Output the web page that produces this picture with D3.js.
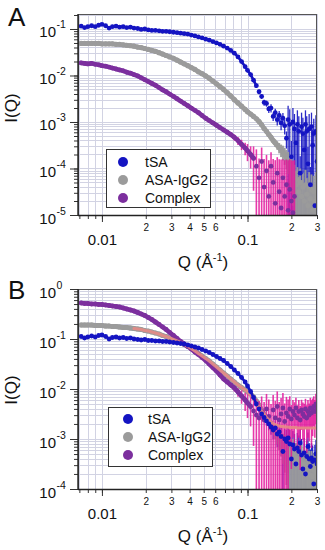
<!DOCTYPE html>
<html><head><meta charset="utf-8">
<script src="https://cdn.jsdelivr.net/npm/d3@7"></script>
<style>body{margin:0;background:#fff}svg{display:block}text{font-family:"Liberation Sans",Arial,sans-serif;fill:#111}</style>
</head><body><svg id="c" width="325" height="550"></svg>
<script>
// ---------- DATA (intensities given as log10 I) ----------
const qLo = [0.0072,0.0076,0.008,0.0085,0.009,0.0095,0.010,0.0106,0.0112,0.0118,
0.0125,0.0132,0.014,0.0148,0.0157,0.0166,0.0176,0.0186,0.0197,0.0208,
0.022,0.0233,0.0247,0.0261,0.0276,0.0292,0.031,0.0328,0.0347,0.0367,
0.0389,0.0411,0.0435,0.046,0.0487,0.0516,0.0546,0.0578,0.0612,0.0647,
0.0685,0.0725,0.0767,0.0812,0.086,0.091,0.0963];
const qHi = [0.100,0.105,0.110,0.115,0.120,0.125,0.130,0.135,0.140,0.145,
0.150,0.155,0.160,0.165,0.170,0.175,0.180,0.185,0.190,0.195,
0.200,0.205,0.210,0.215,0.220,0.225,0.230,0.235,0.240,0.245,
0.250,0.255,0.260,0.265,0.270,0.275,0.280,0.285,0.290,0.295,0.300];

const seriesNames = ["tSA","ASA-IgG2","Complex"];

// ----- Panel A -----
const tSA_A_lo = [-0.94,-0.97,-0.95,-0.93,-0.95,-0.92,-0.90,-0.93,-0.98,-0.95,
-0.94,-0.96,-0.95,-0.97,-0.96,-0.98,-0.99,-1.01,-1.00,-1.02,
-1.03,-1.03,-1.04,-1.05,-1.05,-1.06,-1.07,-1.08,-1.09,-1.10,
-1.11,-1.13,-1.15,-1.17,-1.19,-1.22,-1.24,-1.27,-1.30,-1.33,
-1.37,-1.41,-1.46,-1.52,-1.60,-1.70,-1.81];
const tSA_A_hi = [-1.89,-1.98,-2.10,-2.22,-2.35,-2.45,-2.58,-2.60,-2.72,-2.70,
-2.88,-2.80,-2.95,-2.86,-3.02,-2.92,-3.08,-3.35,-2.95,-3.05,
-3.75,-3.00,-3.15,-3.45,-3.05,-3.20,-4.10,-3.10,-3.25,-3.60,
-3.05,-3.20,-3.90,-3.15,-4.35,-3.10,-3.50,-3.25,-4.80,-3.20,-3.85];
const tSA_A_hiErr = [0.08,0.08,0.10,0.10,0.12,0.12,0.15,0.15,0.18,0.20,
0.20,0.22,0.25,0.25,0.30,0.30,0.35,0.40,1.00,1.10,
1.20,1.00,1.10,1.20,1.00,1.10,1.30,1.00,1.20,1.20,
1.00,1.10,1.30,1.10,1.40,1.00,1.20,1.10,1.50,1.20,1.30];

const asa_A_lo = [-1.31,-1.31,-1.31,-1.31,-1.31,-1.31,-1.32,-1.32,-1.32,-1.32,
-1.33,-1.33,-1.34,-1.35,-1.36,-1.37,-1.39,-1.40,-1.42,-1.44,
-1.46,-1.48,-1.51,-1.54,-1.57,-1.60,-1.63,-1.67,-1.71,-1.75,
-1.79,-1.83,-1.87,-1.92,-1.96,-2.01,-2.06,-2.12,-2.18,-2.24,
-2.30,-2.37,-2.44,-2.52,-2.59,-2.66,-2.73];
const asa_A_hi = [-2.78,-2.83,-2.88,-2.93,-2.99,-3.06,-3.14,-3.20,-3.27,-3.33,
-3.40,-3.45,-3.50,-3.55,-3.60,-3.64,-3.70,-3.76,-3.82,-3.92,
-4.00,-4.10,-4.20,-4.35,-4.25,-4.50,-4.30,-4.60,-4.40,-4.70,
-4.35,-4.55,-4.80,-4.40,-4.65,-4.45,-4.90,-4.50,-4.70,-4.40,-4.60];
const asa_A_hiErr = [0.03,0.03,0.03,0.03,0.04,0.05,0.06,0.08,0.10,0.12,
0.15,0.18,0.20,0.25,0.30,0.35,0.40,0.45,0.50,0.60,
0.70,0.80,0.90,1.00,0.90,1.10,1.00,1.20,1.00,1.30,
1.10,1.20,1.40,1.10,1.30,1.10,1.50,1.20,1.30,1.10,1.30];

const cplx_A_lo = [-1.73,-1.74,-1.75,-1.74,-1.76,-1.77,-1.79,-1.80,-1.82,-1.84,
-1.86,-1.88,-1.90,-1.93,-1.95,-1.98,-2.01,-2.05,-2.09,-2.13,
-2.17,-2.21,-2.26,-2.31,-2.35,-2.40,-2.45,-2.50,-2.55,-2.60,
-2.65,-2.70,-2.75,-2.80,-2.86,-2.92,-2.97,-3.02,-3.07,-3.12,
-3.17,-3.22,-3.27,-3.33,-3.40,-3.48,-3.56];
const cplx_A_loErr = [0.04,0.04,0.04,0.04,0.04,0.04,0.04,0.04,0.04,0.04,
0.04,0.04,0.04,0.04,0.04,0.04,0.04,0.04,0.04,0.04,
0.04,0.04,0.04,0.04,0.04,0.04,0.04,0.04,0.04,0.04,
0.04,0.04,0.04,0.04,0.04,0.04,0.04,0.04,0.04,0.04,
0.08,0.10,0.12,0.15,0.20,0.25,0.30];
const cplx_A_hi = [-3.62,-3.70,-3.78,-3.95,-4.20,-3.85,-4.40,-4.05,-4.60,-3.95,
-4.30,-4.75,-4.10,-4.50,-4.85,-4.20,-4.60,-4.35,-4.90,-4.45,
-4.70,-4.95,-4.60,null,null,null,null,null,null,null,
null,null,null,null,null,null,null,null,null,null,null];
const cplx_A_hiErr = [0.40,0.50,0.80,1.30,1.60,1.00,3.00,1.20,5.00,1.00,
2.20,7.50,1.20,4.00,10.0,1.50,5.00,2.50,11.0,3.50,
6.50,12.0,5.00,0,0,0,0,0,0,0,
0,0,0,0,0,0,0,0,0,0,0];

// ----- Panel B -----
const tSA_B_lo = [-0.95,-0.98,-0.96,-0.94,-0.96,-0.93,-0.92,-0.95,-1.00,-0.97,
-0.96,-0.98,-0.97,-0.99,-0.98,-1.00,-1.01,-1.02,-1.01,-1.03,
-1.03,-1.04,-1.04,-1.05,-1.05,-1.06,-1.07,-1.08,-1.09,-1.10,
-1.12,-1.14,-1.16,-1.18,-1.21,-1.24,-1.27,-1.31,-1.35,-1.39,
-1.43,-1.49,-1.55,-1.62,-1.69,-1.77,-1.86];
const tSA_B_hi = [-1.94,-2.05,-2.17,-2.30,-2.40,-2.50,-2.57,-2.64,-2.70,-2.76,
-2.82,-2.78,-2.90,-2.86,-2.95,-3.25,-3.00,-3.05,-2.98,-3.10,
-3.40,-3.12,-3.20,-3.50,-3.18,-3.25,-3.08,-3.32,-3.60,-3.28,
-3.70,-3.35,-3.15,-3.40,-3.55,-3.38,-3.45,-3.90,-3.42,-3.30,-3.50];
const tSA_B_hiErr = [0.05,0.06,0.08,0.10,0.12,0.15,0.18,0.20,0.25,0.30,
0.35,0.40,0.45,0.50,0.55,0.90,0.60,0.70,0.80,0.90,
1.00,0.90,1.00,1.20,1.00,1.10,0.90,1.10,1.30,1.00,
1.30,1.10,0.90,1.10,1.20,1.00,1.10,1.40,1.00,0.90,1.10];

const asa_B_lo = [-0.72,-0.72,-0.72,-0.72,-0.73,-0.73,-0.73,-0.74,-0.74,-0.75,
-0.75,-0.76,-0.77,-0.77,-0.78,-0.79,-0.80,-0.81,-0.83,-0.84,
-0.86,-0.88,-0.90,-0.93,-0.95,-0.98,-1.01,-1.04,-1.07,-1.11,
-1.15,-1.19,-1.24,-1.29,-1.34,-1.39,-1.44,-1.50,-1.56,-1.62,
-1.68,-1.74,-1.80,-1.86,-1.92,-1.97,-2.02];
const asa_B_hi = [-2.05,-2.10,-2.16,-2.24,-2.32,-2.42,-2.50,-2.58,-2.66,-2.74,
-2.82,-2.88,-2.95,-3.00,-3.05,-3.10,-3.15,-3.22,-3.28,-3.25,
-3.35,-3.30,-3.45,-3.38,-3.50,-3.42,-3.55,-3.48,-3.60,-3.50,
-3.65,-3.55,-3.70,-3.58,-3.72,-3.60,-3.75,-3.62,-3.70,-3.65,-3.75];
const asa_B_hiErr = [0.02,0.02,0.02,0.02,0.02,0.02,0.05,0.08,0.10,0.15,
0.20,0.25,0.30,0.40,0.50,0.60,0.70,0.80,0.90,1.00,
1.10,1.00,1.20,1.00,1.10,1.20,1.00,1.30,1.10,1.20,
1.00,1.30,1.10,1.20,1.00,1.30,1.10,1.20,1.00,1.20,1.10];
const fit_B_lo = [null,null,null,null,null,null,null,null,null,null,
null,null,null,null,null,-0.79,-0.80,-0.81,-0.83,-0.84,
-0.86,-0.88,-0.90,-0.93,-0.95,-0.98,-1.01,-1.04,-1.07,-1.11,
-1.15,-1.19,-1.24,-1.29,-1.34,-1.39,-1.44,-1.50,-1.56,-1.62,
-1.68,-1.74,-1.80,-1.86,-1.92,-1.97,-2.02];
const fit_B_hi = [-2.05,-2.12,-2.20,-2.28,-2.36,-2.44,-2.51,-2.57,-2.62,-2.66,
-2.69,-2.71,-2.73,-2.74,-2.75,-2.75,-2.76,-2.76,-2.76,-2.77,
-2.77,-2.77,-2.77,-2.77,-2.78,-2.78,-2.78,-2.78,-2.78,-2.78,
-2.78,-2.78,-2.78,-2.78,-2.78,-2.78,-2.78,-2.78,-2.78,-2.78,-2.78];

const cplx_B_lo = [-0.28,-0.29,-0.29,-0.30,-0.30,-0.31,-0.31,-0.32,-0.33,-0.34,
-0.35,-0.36,-0.38,-0.40,-0.42,-0.44,-0.47,-0.50,-0.53,-0.57,
-0.61,-0.66,-0.71,-0.76,-0.81,-0.87,-0.93,-0.99,-1.05,-1.10,
-1.15,-1.20,-1.26,-1.31,-1.37,-1.43,-1.50,-1.57,-1.64,-1.72,
-1.80,-1.86,-1.92,-1.98,-2.06,-2.14,-2.22];
const cplx_B_loErr = [0.04,0.04,0.04,0.04,0.04,0.04,0.04,0.04,0.04,0.04,
0.04,0.04,0.04,0.04,0.04,0.04,0.04,0.04,0.04,0.04,
0.04,0.04,0.04,0.04,0.04,0.04,0.04,0.04,0.04,0.04,
0.04,0.04,0.04,0.04,0.04,0.04,0.04,0.04,0.04,0.04,
0.04,0.08,0.10,0.15,0.20,0.30,0.40];
const cplx_B_hi = [-2.28,-2.35,-2.44,-2.52,-2.58,-2.45,-2.62,-2.40,-2.55,-2.68,
-2.42,-2.58,-2.35,-2.62,-2.50,-2.38,-2.65,-2.48,-2.55,-2.40,
-2.60,-2.45,-2.52,-2.38,-2.58,-2.45,-2.62,-2.42,-2.50,-2.55,
-2.40,-2.58,-2.45,-2.52,-2.38,-2.48,-2.42,-2.35,-2.45,-2.30,-2.38];
const cplx_B_hiErr = [0.50,0.60,0.80,1.10,1.20,1.00,1.30,1.00,1.20,1.40,
1.00,1.20,1.00,1.30,1.10,1.00,1.30,1.10,1.20,0.80,
0.90,0.70,0.80,0.60,0.80,0.70,0.90,0.60,0.70,0.80,
0.60,0.80,0.70,0.70,0.60,0.80,0.70,0.60,0.70,0.60,0.70];

// ----- axis tick labels -----
const xDomain = [0.00685, 0.3];
const xMajorTicks = [0.01, 0.1];
const xMajorLabels = ["0.01", "0.1"];
const xMinorLabelTicks = [0.02, 0.03, 0.04, 0.05, 0.06, 0.2, 0.3];
const xMinorLabels = ["2", "3", "4", "5", "6", "2", "3"];
const yExpA = [-1, -2, -3, -4, -5];
const yExpB = [0, -1, -2, -3, -4];

// ---------- DRAWING ----------
const C = {tSA:"#1414c2", asa:"#9b9b9b", cplx:"#7c2f9e", cplxErr:"#e3179c", fit:"#e58b86", grid:"#d2d3e3"};
const svg = d3.select("#c");
const xL = 78, xR = 317;
const x = d3.scaleLog().domain(xDomain).range([xL, xR]);
const toI = v => Math.pow(10, v);

function pts(qs, vals, errs){
  const out = [];
  qs.forEach((qq,i)=>{ if(vals[i]!==null && vals[i]!==undefined) out.push({q:qq, I:toI(vals[i]), e:errs?errs[i]:0}); });
  return out;
}

function drawPanel(p){
  const y = d3.scaleLog().domain(p.yDomain).range([p.bottom, p.top]);
  const g = svg.append("g");
  const xt = x.ticks().filter(v => v >= xDomain[0] && v <= xDomain[1]*1.0001);
  const yt = y.ticks().filter(v => v >= p.yDomain[0]*0.9999 && v <= p.yDomain[1]*1.0001);
  g.append("g").selectAll("line").data(xt).join("line")
    .attr("x1", d=>Math.round(x(d))+0.5).attr("x2", d=>Math.round(x(d))+0.5)
    .attr("y1", p.top).attr("y2", p.bottom).attr("stroke", C.grid).attr("stroke-width", 1);
  g.append("g").selectAll("line").data(yt).join("line")
    .attr("y1", d=>Math.round(y(d))+0.5).attr("y2", d=>Math.round(y(d))+0.5)
    .attr("x1", xL).attr("x2", xR).attr("stroke", C.grid).attr("stroke-width", 1);

  svg.append("clipPath").attr("id", "clip"+p.id).append("rect")
    .attr("x", xL).attr("y", p.top).attr("width", xR-xL).attr("height", p.bottom-p.top);
  const dg = g.append("g").attr("clip-path", `url(#clip${p.id})`);

  const ymin = p.yDomain[0];
  function errBars(ps, color, width, op){
    dg.append("g").selectAll("line").data(ps.filter(d=>d.e>0.06)).join("line")
      .attr("x1", d=>x(d.q)).attr("x2", d=>x(d.q))
      .attr("y1", d=>{ const lo = d.I*(1-d.e); return lo <= ymin ? p.bottom+2 : y(lo); })
      .attr("y2", d=>y(d.I*(1+d.e)))
      .attr("stroke", color).attr("stroke-width", width).attr("opacity", op);
  }
  function band(ps, color, w, op){
    dg.append("path").datum(ps).attr("d", d3.line().x(d=>x(d.q)).y(d=>y(d.I))).attr("fill","none")
      .attr("stroke", color).attr("stroke-width", w).attr("opacity", op||1)
      .attr("stroke-linejoin","round").attr("stroke-linecap","round");
  }
  function dots(ps, color, r){
    dg.append("g").selectAll("circle").data(ps).join("circle")
      .attr("cx", d=>x(d.q)).attr("cy", d=>y(d.I)).attr("r", r).attr("fill", color);
  }

  const asa = pts(qLo, p.asaLo, null).concat(pts(qHi, p.asaHi, p.asaHiErr));
  const cp = pts(qLo, p.cpLo, p.cpLoErr).concat(pts(qHi, p.cpHi, p.cpHiErr));
  const ts = pts(qLo, p.tLo, null).concat(pts(qHi, p.tHi, p.tHiErr));

  errBars(ts, C.tSA, 1.3, 0.9);                 // tSA error bars at the back
  errBars(asa, C.asa, 2.0, 0.95);               // ASA-IgG2
  band(asa.filter(d=>d.q < p.asaBand), C.asa, 4.8);
  dots(asa, C.asa, 2.6);
  errBars(cp, C.cplxErr, 1.6, 0.85);            // Complex
  band(cp.filter(d=>d.q < p.cpBand), C.cplx, 4.6);
  dots(cp, C.cplx, 2.4);
  if(p.fitLo){                                  // fit on ASA-IgG2
    const fp = pts(qLo, p.fitLo, null).concat(pts(qHi, p.fitHi, null));
    band(fp, C.fit, 3, 0.9);
  }
  band(ts.filter(d=>d.q < 0.12), C.tSA, 2.6);   // tSA points on top
  dots(ts, C.tSA, 2.4);

  // axes
  const ax = svg.append("g").attr("transform", `translate(0,${p.bottom})`);
  ax.append("g").call(d3.axisBottom(x).tickValues(xt).tickSize(4).tickFormat(""));
  ax.append("g").call(d3.axisBottom(x).tickValues(xMajorTicks).tickSize(7).tickFormat((d,i)=>xMajorLabels[i]))
    .selectAll("text").attr("y", 30).attr("dy", 0).style("font-size","15px").style("font-family","Liberation Sans, Arial");
  ax.append("g").call(d3.axisBottom(x).tickValues(xMinorLabelTicks).tickSize(0).tickFormat((d,i)=>xMinorLabels[i]))
    .selectAll("text").attr("y", 16).attr("dy", 0).style("font-size","10px").style("font-family","Liberation Sans, Arial");
  ax.selectAll(".domain").remove();
  ax.selectAll(".tick line").attr("stroke","#333");

  const ay = svg.append("g").attr("transform", `translate(${xL},0)`);
  ay.append("g").call(d3.axisLeft(y).tickValues(yt).tickSize(4).tickFormat(""));
  const yMaj = ay.append("g").call(d3.axisLeft(y).tickValues(p.yExp.map(toI)).tickSize(8).tickFormat(""));
  yMaj.selectAll(".tick").each(function(d,i){
    const t = d3.select(this);
    t.append("text").attr("x",-22).attr("y",8).attr("text-anchor","end").style("font-size","15px")
      .attr("fill","#111").text("10");
    t.append("text").attr("x",-21.5).attr("y",-1).attr("text-anchor","start").style("font-size","10.5px")
      .attr("fill","#111").text(p.yExp[i] < 0 ? "-" + Math.abs(p.yExp[i]) : String(p.yExp[i]));
  });
  ay.selectAll(".domain").remove();
  ay.selectAll(".tick line").attr("stroke","#333");

  // frame
  svg.append("rect").attr("x", xL+0.5).attr("y", p.top+0.5).attr("width", xR-xL-1).attr("height", p.bottom-p.top)
    .attr("fill","none").attr("stroke","#555").attr("stroke-width",1);
  svg.append("line").attr("x1", xL).attr("x2", xL).attr("y1", p.top).attr("y2", p.bottom+0.5).attr("stroke","#222").attr("stroke-width",1.4);
  svg.append("line").attr("x1", xL).attr("x2", xR).attr("y1", p.bottom+0.5).attr("y2", p.bottom+0.5).attr("stroke","#222").attr("stroke-width",1.4);

  // titles
  svg.append("text").attr("transform", `translate(17,${p.yTitleY}) rotate(-90)`).attr("text-anchor","middle")
    .style("font-size","17px").text("I(Q)");
  const xtT = svg.append("text").attr("x", 203).attr("y", p.bottom+53).attr("text-anchor","middle").style("font-size","17px");
  xtT.append("tspan").text("Q (Å");
  xtT.append("tspan").attr("dy",-7).style("font-size","11px").text("-1");
  xtT.append("tspan").attr("dy",7).text(")");
  svg.append("text").attr("x", 8).attr("y", p.letterY).style("font-size","26px").text(p.letter);

  // legend
  const L = p.legend;
  const lg = svg.append("g");
  lg.append("rect").attr("x", L.x+0.5).attr("y", L.y+0.5).attr("width", L.w).attr("height", L.h)
    .attr("fill","#fff").attr("stroke","#333").attr("stroke-width",1);
  const cols = [C.tSA, C.asa, C.cplx];
  seriesNames.forEach((n,i)=>{
    const cy = L.y + L.row0 + i*L.dy;
    lg.append("circle").attr("cx", L.x + L.mx).attr("cy", cy).attr("r", 5).attr("fill", cols[i]);
    lg.append("text").attr("x", L.x + L.tx).attr("y", cy + 5).style("font-size","14px").text(n);
  });
}

drawPanel({id:"A", top:14, bottom:215, yDomain:[1e-5, 0.21], yExp:yExpA, letter:"A", letterY:26, yTitleY:108,
  tLo:tSA_A_lo, tHi:tSA_A_hi, tHiErr:tSA_A_hiErr,
  asaLo:asa_A_lo, asaHi:asa_A_hi, asaHiErr:asa_A_hiErr, asaBand:0.2,
  cpLo:cplx_A_lo, cpLoErr:cplx_A_loErr, cpHi:cplx_A_hi, cpHiErr:cplx_A_hiErr, cpBand:0.112,
  fitLo:null,
  legend:{x:106, y:149, w:104, h:58, mx:17, tx:39, row0:13, dy:18}});
drawPanel({id:"B", top:289, bottom:489, yDomain:[1e-4, 1], yExp:yExpB, letter:"B", letterY:299, yTitleY:390,
  tLo:tSA_B_lo, tHi:tSA_B_hi, tHiErr:tSA_B_hiErr,
  asaLo:asa_B_lo, asaHi:asa_B_hi, asaHiErr:asa_B_hiErr, asaBand:0.19,
  cpLo:cplx_B_lo, cpLoErr:cplx_B_loErr, cpHi:cplx_B_hi, cpHiErr:cplx_B_hiErr, cpBand:0.11,
  fitLo:fit_B_lo, fitHi:fit_B_hi,
  legend:{x:108, y:407, w:104, h:59, mx:20, tx:40, row0:12, dy:18}});
</script></body></html>
